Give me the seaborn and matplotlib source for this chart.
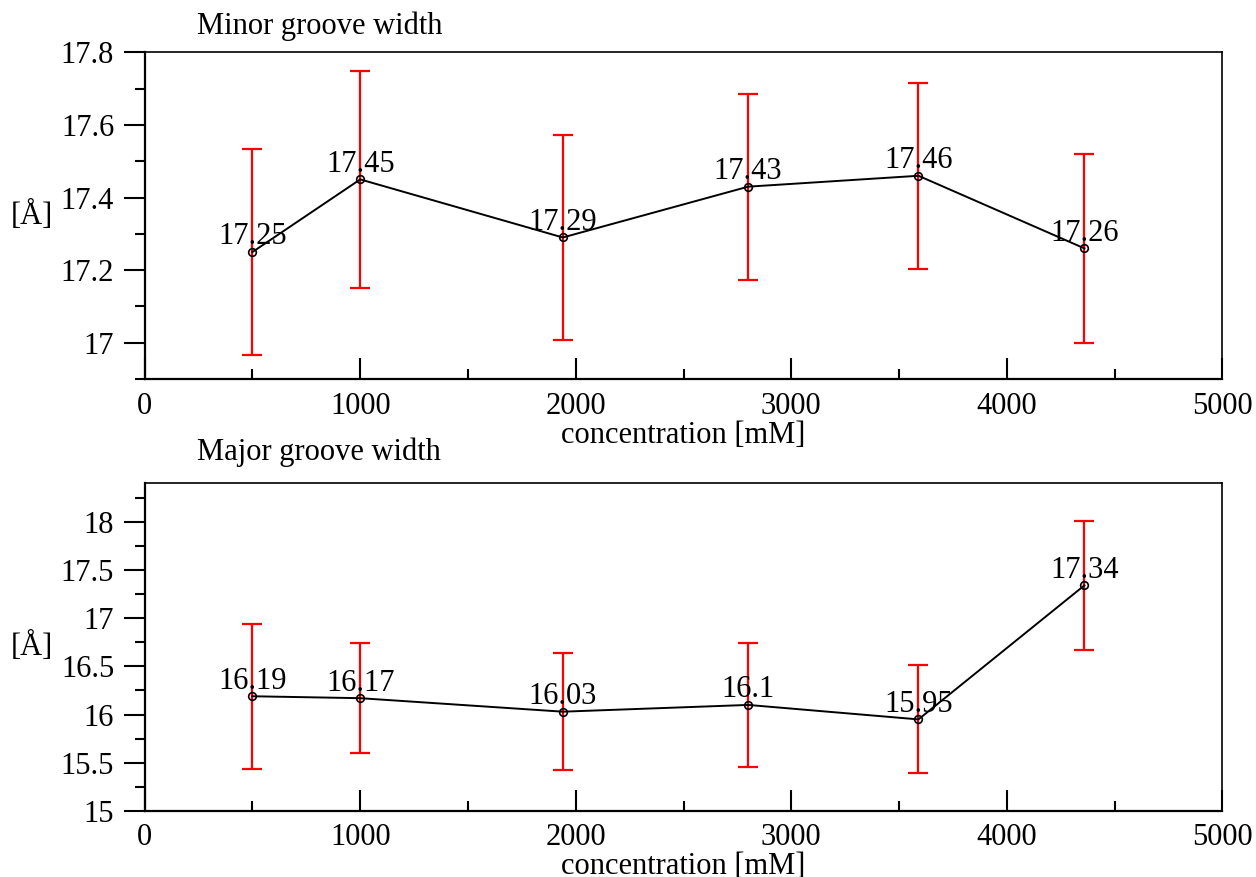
import matplotlib
matplotlib.use("Agg")
import matplotlib.pyplot as plt
from matplotlib.ticker import MultipleLocator, FuncFormatter
import pandas as pd
import seaborn as sns

# data
concentration = [500, 1000, 1940, 2800, 3590, 4360]
minor_width = [17.25, 17.45, 17.29, 17.43, 17.46, 17.26]
minor_err = [0.285, 0.30, 0.282, 0.256, 0.256, 0.26]
major_width = [16.19, 16.17, 16.03, 16.10, 15.95, 17.34]
major_err = [0.754, 0.57, 0.61, 0.64, 0.56, 0.67]
minor_labels = ["17.25", "17.45", "17.29", "17.43", "17.46", "17.26"]
major_labels = ["16.19", "16.17", "16.03", "16.1", "15.95", "17.34"]

plt.rcParams['font.family'] = ['Liberation Serif', 'DejaVu Serif']
plt.rcParams['font.size'] = 22

df = pd.DataFrame({
    'concentration': concentration,
    'minor': minor_width,
    'minor_err': minor_err,
    'major': major_width,
    'major_err': major_err,
})

fig = plt.figure(figsize=(12.56, 8.77), dpi=100)
ax_top = fig.add_axes([0.1152, 0.5678, 0.8580, 0.3725])
ax_bot = fig.add_axes([0.1152, 0.0753, 0.8580, 0.3737])


def draw_panel(ax, ycol, ecol, labels, title, ylim, ymajor, yminor, title_y):
    ax.errorbar(df['concentration'], df[ycol], yerr=df[ecol], fmt='none',
                ecolor='#ff0000', elinewidth=1.6, capsize=7.5, capthick=1.6,
                zorder=2)
    sns.lineplot(data=df, x='concentration', y=ycol, ax=ax, color='black',
                 linewidth=1.4, marker='o', markersize=5.5,
                 markerfacecolor='none', markeredgecolor='black',
                 markeredgewidth=1.2, estimator=None, sort=False, zorder=3)
    for xv, yv, lab in zip(df['concentration'], df[ycol], labels):
        ax.annotate(lab, (xv, yv), xytext=(0, 5.5), textcoords='offset points',
                    ha='center', va='baseline', fontsize=22)

    ax.set_xlim(0, 5000)
    ax.set_ylim(*ylim)
    ax.xaxis.set_major_locator(MultipleLocator(1000))
    ax.xaxis.set_minor_locator(MultipleLocator(500))
    ax.yaxis.set_major_locator(MultipleLocator(ymajor))
    ax.yaxis.set_minor_locator(MultipleLocator(yminor))
    ax.yaxis.set_major_formatter(FuncFormatter(lambda v, p: f"{v:g}"))

    ax.tick_params(axis='x', which='both', direction='in', top=False,
                   width=1.5, pad=9)
    ax.tick_params(axis='x', which='major', length=15)
    ax.tick_params(axis='x', which='minor', length=7.5)
    ax.tick_params(axis='y', which='both', direction='out', right=False,
                   width=1.5, pad=7)
    ax.tick_params(axis='y', which='major', length=15)
    ax.tick_params(axis='y', which='minor', length=7.5)

    for side in ['left', 'bottom']:
        ax.spines[side].set_linewidth(1.6)
    for side in ['top', 'right']:
        ax.spines[side].set_linewidth(1.2)

    ax.set_xlabel('concentration [mM]', labelpad=0)
    ax.set_ylabel('[Å]', rotation=0, ha='center', va='center')
    ax.yaxis.set_label_coords(-0.105, 0.5)
    ax.text(0.0485, title_y, title, transform=ax.transAxes,
            ha='left', va='baseline', fontsize=22)


draw_panel(ax_top, 'minor', 'minor_err', minor_labels, 'Minor groove width',
           (16.9, 17.8), 0.2, 0.1, 1.055)
draw_panel(ax_bot, 'major', 'major_err', major_labels, 'Major groove width',
           (15.0, 18.4), 0.5, 0.25, 1.071)

fig.savefig('out.png', dpi=100)
